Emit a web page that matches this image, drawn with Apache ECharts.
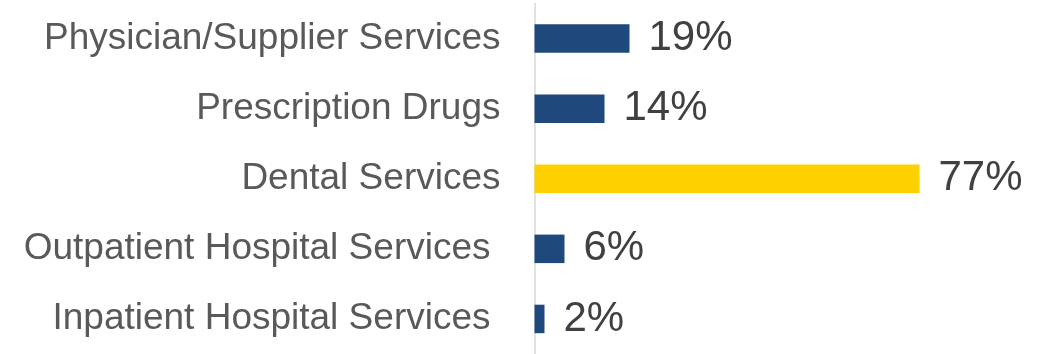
<!DOCTYPE html>
<html>
<head>
<meta charset="utf-8">
<script src="https://cdn.jsdelivr.net/npm/echarts@6/dist/echarts.min.js"></script>
<style>
  html, body { margin: 0; padding: 0; background: #ffffff; }
  #chart { width: 1050px; height: 354px; }
</style>
</head>
<body>
<div id="chart"></div>
<script>
// Service categories, top to bottom
const categories = [
  'Physician/Supplier Services',
  'Prescription Drugs',
  'Dental Services',
  'Outpatient Hospital Services',
  'Inpatient Hospital Services'
];
// Share of spending (%)
const shares = [19, 14, 77, 6, 2];
// Category highlighted in yellow
const highlight = 'Dental Services';

const BLUE = '#1F497D';
const YELLOW = '#FFD000';

const chart = echarts.init(document.getElementById('chart'), null, { renderer: 'canvas' });

chart.setOption({
  animation: false,
  backgroundColor: '#ffffff',
  grid: { left: 534.5, top: 3.5, width: 500, height: 357.5, containLabel: false },
  xAxis: {
    type: 'value',
    min: 0,
    max: 100,
    show: false
  },
  yAxis: {
    type: 'category',
    inverse: true,
    data: categories.map((c, i) => ({
      value: c,
      textStyle: i >= 3 ? { padding: [0, 10, 0, 0] } : {}
    })),
    axisLine: { show: true, lineStyle: { color: '#D9D9D9', width: 1.5 } },
    axisTick: { show: false },
    axisLabel: {
      margin: 34,
      color: '#595959',
      fontFamily: 'Liberation Sans, Arial, sans-serif',
      fontSize: 37
    }
  },
  series: [{
    type: 'bar',
    barWidth: 28.5,
    data: shares.map((v, i) => ({
      value: v,
      itemStyle: { color: categories[i] === highlight ? YELLOW : BLUE }
    })),
    label: {
      show: true,
      position: 'right',
      distance: 19,
      color: '#404040',
      fontFamily: 'Liberation Sans, Arial, sans-serif',
      fontSize: 42,
      formatter: p => p.value + '%'
    }
  }]
});
</script>
</body>
</html>
